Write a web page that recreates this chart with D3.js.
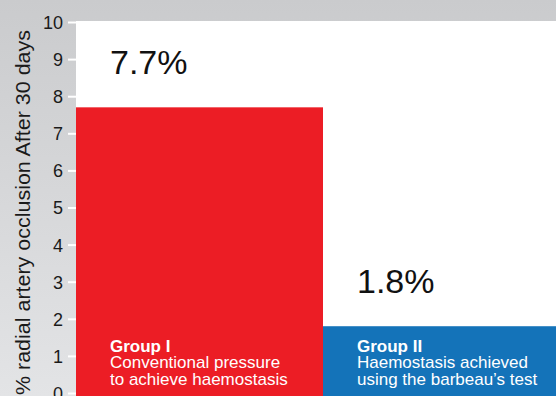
<!DOCTYPE html>
<html><head><meta charset="utf-8">
<script src="https://cdn.jsdelivr.net/npm/d3@7"></script>
<style>html,body{margin:0;padding:0;overflow:hidden;background:#fff}svg{display:block}text{font-family:"Liberation Sans",Arial,Helvetica,sans-serif}</style>
</head><body><svg id="c" width="556" height="396"></svg>
<script>
const categories = ["Group I", "Group II"];
const values = [7.7, 1.8];
const valueLabels = ["7.7%", "1.8%"];
const descriptions = [["Conventional pressure", "to achieve haemostasis"], ["Haemostasis achieved", "using the barbeau\u2019s test"]];
const colors = ["#ec1d25", "#1473b9"];
const yTicks = [0,1,2,3,4,5,6,7,8,9,10];
const yTitle = "% radial artery occlusion After 30 days";

const W = 556, H = 396;
const svg = d3.select("#c");
const defs = svg.append("defs");
const g = defs.append("linearGradient").attr("id","bg").attr("x1",0).attr("y1",0).attr("x2",0).attr("y2",1);
g.append("stop").attr("offset","0%").attr("stop-color","#cacbcd");
g.append("stop").attr("offset","100%").attr("stop-color","#e3e4e6");
svg.append("rect").attr("width",W).attr("height",H).attr("fill","url(#bg)");

const y = d3.scaleLinear().domain([0,10]).range([393,22]);
const x = d3.scaleBand().domain(categories).range([76,570]).padding(0);

// plot area
svg.append("rect").attr("x",76).attr("y",y(10)-1).attr("width",W-76).attr("height",H-y(10)+1).attr("fill","#fff");

// bars
svg.selectAll("rect.bar").data(categories).enter().append("rect").attr("class","bar")
  .attr("x",d=>x(d)).attr("y",(d,i)=>y(values[i])).attr("width",x.bandwidth())
  .attr("height",(d,i)=>H-y(values[i])).attr("fill",(d,i)=>colors[i]);

// axis
const ax = svg.append("g").attr("transform","translate(76,0)")
  .call(d3.axisLeft(y).tickValues(yTicks).tickSize(8).tickPadding(5).tickFormat(d3.format("d")));
ax.select(".domain").remove();
ax.selectAll(".tick line").attr("stroke","#fff").attr("stroke-width",2);
ax.selectAll(".tick text").attr("fill","#1a1a1a").style("font-size","18px").attr("dy","0.36em")
  .style("font-family",'"Liberation Sans",Arial,Helvetica,sans-serif');

// y title
svg.append("text").attr("transform","translate(30,"+((30+395)/2)+") rotate(-90)")
  .attr("text-anchor","middle").attr("fill","#1a1a1a").style("font-size","20px")
  .attr("textLength",365).attr("lengthAdjust","spacingAndGlyphs").text(yTitle);

// value labels
svg.selectAll("text.val").data(categories).enter().append("text").attr("class","val")
  .attr("x",d=>x(d)+34).attr("y",(d,i)=>y(values[i])-33)
  .attr("fill","#111").style("font-size","34px").text((d,i)=>valueLabels[i]);

// group labels
categories.forEach((c,i)=>{
  const t = svg.append("text").attr("x",x(c)+34).attr("y",351.5).attr("fill","#fff").style("font-size","17px");
  t.append("tspan").attr("x",x(c)+34).style("font-weight","bold").text(c);
  descriptions[i].forEach((line,j)=>{
    t.append("tspan").attr("x",x(c)+34).attr("dy","16.7").text(line);
  });
});
</script></body></html>
